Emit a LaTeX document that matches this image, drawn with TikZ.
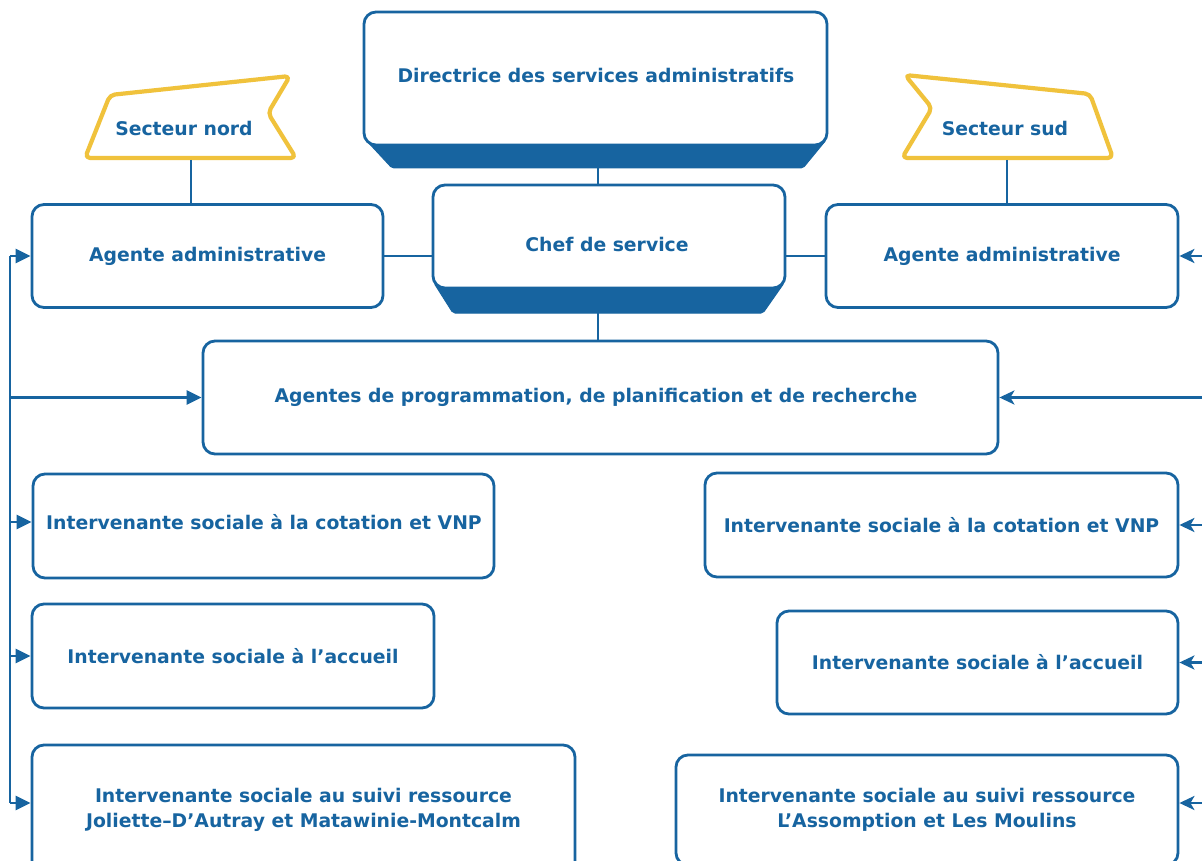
\documentclass[tikz,border=0pt]{standalone}
\usepackage{fontspec}
\setmainfont{DejaVu Sans}
\usetikzlibrary{arrows.meta}
\definecolor{bl}{HTML}{1764A0}
\definecolor{yl}{HTML}{F0C23C}
\begin{document}
\begin{tikzpicture}[x=1pt,y=-1pt,
  lbl/.style={text=bl, font=\bfseries\fontsize{18.8}{25}\selectfont, align=center, inner sep=0},
  box/.style={draw=bl, line width=2.8pt, rounded corners=12pt, fill=white, lbl},
  ln/.style={draw=bl, line width=2.6pt},
  arrL/.style={ln, -{Triangle[length=15pt,width=14pt]}},
  arrR/.style={ln, -{Stealth[length=15pt,width=14pt,inset=4pt]}},
  base/.style={fill=bl, draw=bl, line width=1pt, rounded corners=2pt},
  banner/.style={draw=yl, line width=4.2pt, rounded corners=5pt, fill=white, line join=round}]
\clip (0,0) rectangle (1202,861);
\fill[white] (0,0) rectangle (1202,861);

% Directrice
\fill[base] (366,140) -- (826,140) -- (803,168) -- (392,168) -- cycle;
\node[box, minimum width=463pt, minimum height=133pt] (dir) at (595.5,78.5) {};
\node[lbl] (dirT) at (596,75) {Directrice des services administratifs};
\coordinate (dirB) at (598,168);

% Chef
\fill[base] (434,283) -- (784,283) -- (763,313) -- (453,313) -- cycle;
\node[box, minimum width=352pt, minimum height=103pt] (chef) at (609,236.5) {};
\node[lbl] (chefT) at (607,244) {Chef de service};
\coordinate (chefB) at (598,313);
\draw[ln] (dirB) -- (dirB |- chef.north);

% Banners
\draw[banner] (110,95) -- (290,76) -- (268,113) -- (296,158) -- (85,158) -- cycle;
\node[lbl] (nord) at (184,128) {Secteur nord};
\coordinate (nordB) at (191,160);
\draw[banner] (905,75) -- (1090,94) -- (1113,158) -- (902,158) -- (932,108) -- cycle;
\node[lbl] (sud) at (1005,128) {Secteur sud};
\coordinate (sudB) at (1007,160);

% Agents
\node[box, minimum width=351pt, minimum height=103pt] (agL) at (207.5,256) {Agente administrative};
\node[box, minimum width=352pt, minimum height=103pt] (agR) at (1002,256) {Agente administrative};
\draw[ln] (nordB) -- (nordB |- agL.north);
\draw[ln] (sudB) -- (sudB |- agR.north);
\draw[ln] (agL.east) -- (agL.east -| chef.west);
\draw[ln] (agR.west) -- (agR.west -| chef.east);

% APPR
\node[box, minimum width=795pt, minimum height=113pt] (appr) at (600.5,397.5) {};
\node[lbl] (apprT) at (596,397) {Agentes de programmation, de planification et de recherche};
\draw[ln] (chefB) -- (chefB |- appr.north);

% Left column
\node[box, minimum width=461pt, minimum height=104pt] (cotL) at (263.5,526) {};
\node[lbl] (cotLT) at (264,522) {Intervenante sociale à la cotation et VNP};
\node[box, minimum width=402pt, minimum height=104pt] (accL) at (233,656) {Intervenante sociale à l’accueil};
\node[box, minimum width=543pt, minimum height=130pt] (suiL) at (303.5,810) {Intervenante sociale au suivi ressource\\Joliette–D’Autray et Matawinie-Montcalm};

% Right column
\node[box, minimum width=473pt, minimum height=104pt] (cotR) at (941.5,525) {Intervenante sociale à la cotation et VNP};
\node[box, minimum width=401pt, minimum height=103pt] (accR) at (977.5,662.5) {Intervenante sociale à l’accueil};
\node[box, minimum width=502pt, minimum height=110pt] (suiR) at (927,810) {Intervenante sociale au suivi ressource\\L’Assomption et Les Moulins};

% Left bus
\coordinate (busT) at (10,256);
\coordinate (busB) at (10,803);
\draw[ln] (busT) -- (busB);
\draw[arrL] (busT) -- (agL.west);
\draw[arrL] (busT |- appr.west) -- (appr.west);
\draw[arrL] (busT |- cotLT) -- (busT |- cotLT -| cotL.west);
\draw[arrL] (busT |- accL.west) -- (accL.west);
\draw[arrL] (busB) -- (busB -| suiL.west);

% Right arrows
\coordinate (rx) at (1210,0);
\coordinate (rS) at (1210,803);
\draw[arrR] (rx |- agR.east) -- (agR.east);
\draw[arrR] (rx |- appr.east) -- (appr.east);
\draw[arrR] (rx |- cotR.east) -- (cotR.east);
\draw[arrR] (rx |- accR.east) -- (accR.east);
\draw[arrR] (rS) -- (rS -| suiR.east);
\end{tikzpicture}
\end{document}
